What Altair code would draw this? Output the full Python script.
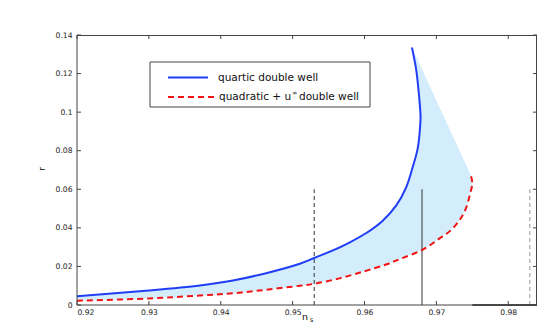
import altair as alt
import pandas as pd

# ---------------- data ----------------
blue_ns = [0.9200, 0.9300, 0.9371, 0.9417, 0.9463, 0.9510, 0.9531, 0.9556, 0.9579, 0.9602,
           0.9625, 0.9644, 0.9658, 0.9667, 0.9674, 0.9677, 0.9678, 0.9676, 0.9672, 0.9666]
blue_r = [0.0046, 0.0075, 0.0101, 0.0127, 0.0165, 0.0214, 0.0245, 0.0283, 0.0324, 0.0372,
          0.0436, 0.0515, 0.0610, 0.0714, 0.0811, 0.0906, 0.0976, 0.1080, 0.1218, 0.1335]

red_ns = [0.9200, 0.9300, 0.9371, 0.9417, 0.9463, 0.9510, 0.9530, 0.9565, 0.9600, 0.9630,
          0.9649, 0.9681, 0.9704, 0.9720, 0.9732, 0.9741, 0.9747, 0.9750, 0.9748]
red_r = [0.0022, 0.0034, 0.0049, 0.0061, 0.0079, 0.0100, 0.0110, 0.0138, 0.0175, 0.0210,
         0.0238, 0.0287, 0.0344, 0.0387, 0.0439, 0.0500, 0.0578, 0.0630, 0.0673]

vline_ns = [0.953, 0.968, 0.983]
vline_r = [0.0, 0.06]
base_seg_ns = [0.975, 0.984]

x_ticks = [0.92, 0.93, 0.94, 0.95, 0.96, 0.97, 0.98]
y_ticks = [0, 0.02, 0.04, 0.06, 0.08, 0.10, 0.12, 0.14]
x_domain = [0.92, 0.984]
y_domain = [0, 0.14]

legend_texts = ["quartic double well", "quadratic + u", "\u221e", "double well"]
x_title = ["n", "s"]
y_title = "r"

# ---------------- styling ----------------
W, H = 460, 270
FONT = "DejaVu Sans"
BLUE = "#1f3ef5"
RED = "#f01414"
FILL = "#d4edfc"
AX = "#444444"

xs = alt.Scale(domain=x_domain, nice=False, zero=False)
ys = alt.Scale(domain=y_domain, nice=False, zero=False)

xaxis = alt.Axis(values=x_ticks, format=".2f", labelPadding=3, title=None,
                 ticks=False, domain=False, grid=False, labelOverlap=False)
yaxis = alt.Axis(values=y_ticks, format=".2~f", labelPadding=5, title=None,
                 ticks=False, domain=False, grid=False, labelOverlap=False)

def X(field):
    return alt.X(field, scale=xs, axis=xaxis)

def Y(field):
    return alt.Y(field, scale=ys, axis=yaxis)

blue_df = pd.DataFrame({"ns": blue_ns, "r": blue_r, "i": list(range(len(blue_ns)))})
red_df = pd.DataFrame({"ns": red_ns, "r": red_r, "i": list(range(len(red_ns)))})
fill_ns = blue_ns + red_ns[::-1]
fill_r = blue_r + red_r[::-1]
fill_df = pd.DataFrame({"ns": fill_ns, "r": fill_r, "i": list(range(len(fill_ns)))})

fill = alt.Chart(fill_df).mark_line(fill=FILL, strokeOpacity=0, interpolate="linear").encode(
    x=X("ns:Q"), y=Y("r:Q"), order="i:Q")

blue = alt.Chart(blue_df).mark_line(color=BLUE, strokeWidth=2, interpolate="catmull-rom").encode(
    x=X("ns:Q"), y=Y("r:Q"), order="i:Q")
red = alt.Chart(red_df).mark_line(color=RED, strokeWidth=2, strokeDash=[6, 4],
                                  interpolate="catmull-rom").encode(
    x=X("ns:Q"), y=Y("r:Q"), order="i:Q")

def vline(ns, color, dash):
    df = pd.DataFrame({"ns": [ns], "r0": [vline_r[0]], "r1": [vline_r[1]]})
    kw = dict(color=color, strokeWidth=1)
    if dash:
        kw["strokeDash"] = dash
    return alt.Chart(df).mark_rule(**kw).encode(x=X("ns:Q"), y=Y("r0:Q"), y2="r1:Q")

v1 = vline(vline_ns[0], "#333333", [4, 3])
v2 = vline(vline_ns[1], "#333333", None)
v3 = vline(vline_ns[2], "#999999", [4, 3])

seg_df = pd.DataFrame({"a": [base_seg_ns[0]], "b": [base_seg_ns[1]], "r": [0.0]})
seg = alt.Chart(seg_df).mark_rule(color="#111", strokeWidth=1.6).encode(
    x=X("a:Q"), x2="b:Q", y=Y("r:Q"))

one = pd.DataFrame({"k": [0]})
fr = dict(color=AX, strokeWidth=1)
f_top = alt.Chart(one).mark_rule(**fr).encode(x=alt.value(0), x2=alt.value(W), y=alt.value(0.5))
f_bot = alt.Chart(one).mark_rule(**fr).encode(x=alt.value(0), x2=alt.value(W), y=alt.value(H))
f_lft = alt.Chart(one).mark_rule(**fr).encode(y=alt.value(0), y2=alt.value(H), x=alt.value(0))
f_rgt = alt.Chart(one).mark_rule(**fr).encode(y=alt.value(0), y2=alt.value(H), x=alt.value(W - 0.5))

xt = pd.DataFrame({"v": x_ticks})
yt = pd.DataFrame({"v": y_ticks})
tb = alt.Chart(xt).mark_rule(**fr).encode(x=X("v:Q"), y=alt.value(H), y2=alt.value(H - 4))
tt = alt.Chart(xt).mark_rule(**fr).encode(x=X("v:Q"), y=alt.value(0), y2=alt.value(4))
tl = alt.Chart(yt).mark_rule(**fr).encode(y=Y("v:Q"), x=alt.value(0), x2=alt.value(4))
tr = alt.Chart(yt).mark_rule(**fr).encode(y=Y("v:Q"), x=alt.value(W), x2=alt.value(W - 4))

leg_box = alt.Chart(one).mark_rect(fill="white", stroke=AX, strokeWidth=1).encode(
    x=alt.value(73), x2=alt.value(293), y=alt.value(27), y2=alt.value(72))
leg_l1 = alt.Chart(one).mark_rule(color=BLUE, strokeWidth=2).encode(
    x=alt.value(91), x2=alt.value(131), y=alt.value(42.5))
leg_l2 = alt.Chart(one).mark_rule(color=RED, strokeWidth=2, strokeDash=[6, 4]).encode(
    x=alt.value(91), x2=alt.value(137), y=alt.value(62))

def txt(s, x, y, size=10.5, angle=0, align="left"):
    return alt.Chart(pd.DataFrame({"t": [s]})).mark_text(
        font=FONT, fontSize=size, align=align, baseline="middle", color="#111", angle=angle
    ).encode(text="t:N", x=alt.value(x), y=alt.value(y))

leg_t1 = txt(legend_texts[0], 141, 42.5)
leg_t2 = txt(legend_texts[1], 142, 62)
leg_t3 = txt(legend_texts[2], 215, 58, size=6.5)
leg_t4 = txt(legend_texts[3], 222, 62)

xt_n = txt(x_title[0], 228, 282, size=9.5, align="center")
xt_s = txt(x_title[1], 233, 285, size=6.5)
yt_r = txt(y_title, -35, 134, size=9, angle=270, align="center")

chart = alt.layer(
    fill, v1, v2, v3, seg, blue, red, f_top, f_bot, f_lft, f_rgt, tb, tt, tl, tr,
    leg_box, leg_l1, leg_l2, leg_t1, leg_t2, leg_t3, leg_t4,
    xt_n, xt_s, yt_r,
).properties(
    width=W, height=H,
    autosize=alt.AutoSizeParams(type="none"),
    padding={"left": 69, "top": 27, "right": 0, "bottom": 19},
).configure_view(
    stroke=None
).configure_axis(
    ticks=False, domain=False, grid=False, labelOverlap=False,
    labelFont=FONT, labelFontSize=7.6, labelColor="#222",
)

chart.save("out.html", embed_options={"renderer": "svg", "actions": False})
